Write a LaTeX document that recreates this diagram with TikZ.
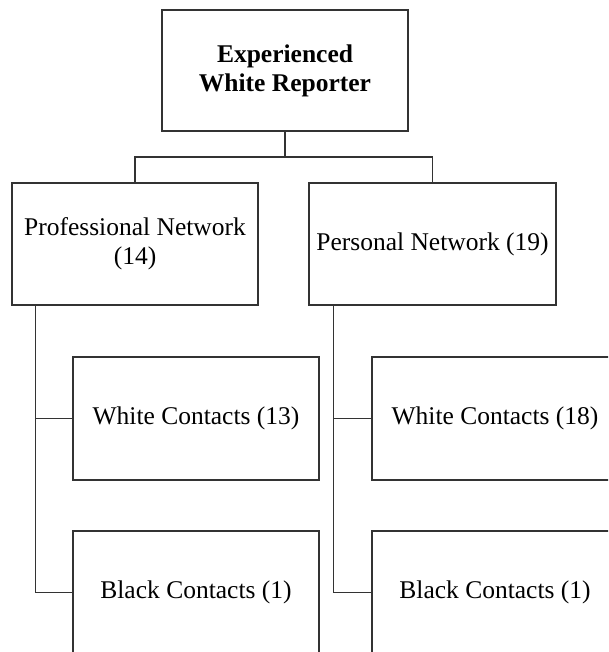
\documentclass[tikz,border=0pt]{standalone}
\usepackage{fontspec}
\setmainfont{Liberation Serif}
\begin{document}
\begin{tikzpicture}[x=1pt,y=-1pt,
  boxnode/.style={draw=black!80, line width=1.1pt, rectangle, align=center,
    minimum width=246pt, minimum height=122pt, inner sep=0pt,
    font=\fontsize{25.5}{29}\selectfont},
  conn/.style={draw=black!80, line width=1.1pt}]
\useasboundingbox (0,0) rectangle (608,652);
\clip (0,0) rectangle (608,652);
\fill[white] (0,0) rectangle (608,652);
\node[boxnode, minimum height=121pt] (top) at (285,70.5) {\textbf{Experienced}\\\textbf{White Reporter}};
\node[boxnode] (prof) at (135,244) {Professional Network\\(14)};
\node[boxnode, minimum width=247pt] (pers) at (432.5,244) {Personal Network (19)};
\node[boxnode, minimum height=123pt] (w1) at (196,418.5) {White Contacts (13)};
\node[boxnode, minimum height=123pt] (b1) at (196,592.5) {Black Contacts (1)};
\node[boxnode, minimum height=123pt] (w2) at (495,418.5) {White Contacts (18)};
\node[boxnode, minimum height=123pt] (b2) at (495,592.5) {Black Contacts (1)};
\coordinate (bar) at (0,157);
\coordinate (sp1) at ([xshift=24pt]prof.south west);
\coordinate (sp2) at ([xshift=25pt]pers.south west);
\draw[conn] (top.south) -- (top.south |- bar);
\draw[conn] (prof.north) -- (prof.north |- bar) -- (pers.north |- bar) -- (pers.north);
\draw[conn] (sp1) |- (b1.west);
\draw[conn] (sp1 |- w1.west) -- (w1.west);
\draw[conn] (sp2) |- (b2.west);
\draw[conn] (sp2 |- w2.west) -- (w2.west);
\end{tikzpicture}
\end{document}
